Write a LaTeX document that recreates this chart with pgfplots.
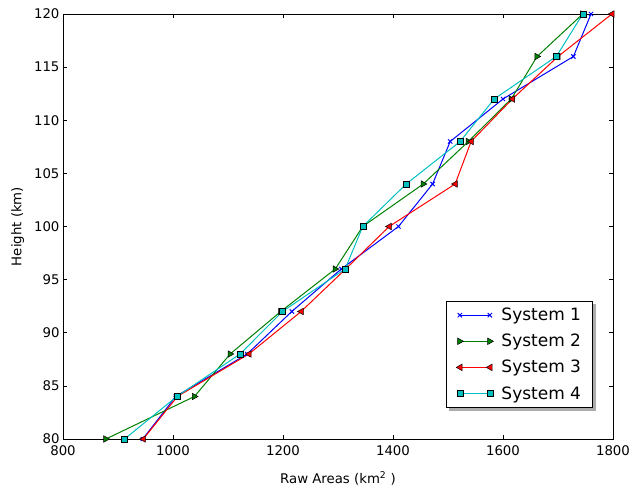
\documentclass[border=0pt]{standalone}
\usepackage{fontspec}
\setmainfont{DejaVu Sans}
\usepackage{pgfplots}
\pgfplotsset{compat=1.18}
\usetikzlibrary{backgrounds,calc}
\definecolor{mblue}{RGB}{0,0,255}
\definecolor{mgreen}{RGB}{0,128,0}
\definecolor{mred}{RGB}{255,0,0}
\definecolor{mcyan}{RGB}{0,191,191}
% matplotlib-like '>', '<' and 's' markers, black edge
\pgfdeclareplotmark{tright}{%
  \pgfsetstrokecolor{black}\pgfsetlinewidth{0.5pt}%
  \pgfpathmoveto{\pgfqpoint{\pgfplotmarksize}{0pt}}%
  \pgfpathlineto{\pgfqpoint{-0.6\pgfplotmarksize}{0.9\pgfplotmarksize}}%
  \pgfpathlineto{\pgfqpoint{-0.6\pgfplotmarksize}{-0.9\pgfplotmarksize}}%
  \pgfpathclose\pgfusepathqfillstroke}
\pgfdeclareplotmark{tleft}{%
  \pgfsetstrokecolor{black}\pgfsetlinewidth{0.5pt}%
  \pgfpathmoveto{\pgfqpoint{-\pgfplotmarksize}{0pt}}%
  \pgfpathlineto{\pgfqpoint{0.6\pgfplotmarksize}{0.9\pgfplotmarksize}}%
  \pgfpathlineto{\pgfqpoint{0.6\pgfplotmarksize}{-0.9\pgfplotmarksize}}%
  \pgfpathclose\pgfusepathqfillstroke}
\pgfdeclareplotmark{sqb}{%
  \pgfsetstrokecolor{black}\pgfsetlinewidth{0.5pt}%
  \pgfpathrectangle{\pgfqpoint{-\pgfplotmarksize}{-\pgfplotmarksize}}{\pgfqpoint{2\pgfplotmarksize}{2\pgfplotmarksize}}%
  \pgfusepathqfillstroke}

\begin{document}
\begin{tikzpicture}
\useasboundingbox (-63pt,-50pt) rectangle (570pt,439pt);
\begin{axis}[
  scale only axis, width=550pt, height=425pt,
  xmin=800, xmax=1800, ymin=80, ymax=120,
  xtick={800,1000,...,1800}, ytick={80,85,...,120},
  tick align=inside, major tick length=4pt,
  tick style={black,line width=0.7pt},
  axis line style={line width=0.9pt},
  /pgf/number format/1000 sep={},
  /pgf/number format/assume math mode=true,
  tick label style={font=\fontsize{13.3}{16}\selectfont},
  xticklabel style={yshift=-3pt},
  label style={font=\fontsize{13.3}{16}\selectfont},
  xlabel={Raw Areas (km\textsuperscript{2} )},
  ylabel={Height (km)},
  xlabel style={yshift=-9pt},
  ylabel style={yshift=3pt},
  legend cell align=left,
  legend style={name=leg, at={(0.9636,0.073)},anchor=south east,
    font=\fontsize{17}{21}\selectfont, line width=0.8pt,
    inner xsep=9.5pt, inner ysep=5pt, row sep=8pt, column sep=6pt},
  legend image code/.code={\draw[#1,mark=none] (0pt,0pt) -- (30pt,0pt);
    \draw[#1,only marks] plot coordinates {(0pt,0pt) (30pt,0pt)};},
]
\addplot[mblue, line width=1pt, mark=x, mark size=3pt] coordinates {
(945,80) (1005,84) (1135,88) (1216,92) (1306,96) (1410,100) (1472,104) (1504,108) (1600,112) (1728,116) (1760,120)};
\addplot[mgreen, line width=1pt, mark=tright, mark size=3.6pt] coordinates {
(878,80) (1039,84) (1104,88) (1196,92) (1295,96) (1345,100) (1455,104) (1537,108) (1615,112) (1662,116) (1745,120)};
\addplot[mred, line width=1pt, mark=tleft, mark size=3.6pt] coordinates {
(946,80) (1008,84) (1138,88) (1233,92) (1314,96) (1393,100) (1513,104) (1542,108) (1617,112) (1700,116) (1798,120)};
\addplot[mcyan, line width=1pt, mark=sqb, mark size=3pt] coordinates {
(912,80) (1007,84) (1122,88) (1199,92) (1313,96) (1345,100) (1424,104) (1522,108) (1584,112) (1697,116) (1745,120)};
\legend{System 1,System 2,System 3,System 4}
\end{axis}
\begin{scope}[on background layer]
\fill[gray!65] ($(leg.south west)+(3pt,-3pt)$) rectangle ($(leg.north east)+(3pt,-3pt)$);
\end{scope}
\end{tikzpicture}
\end{document}
